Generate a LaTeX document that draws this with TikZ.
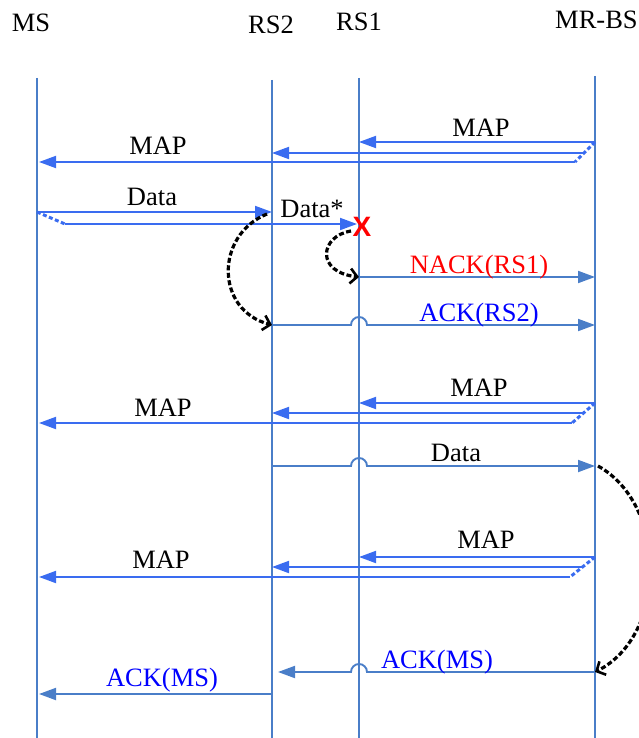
\documentclass[tikz,border=0pt]{standalone}
\usepackage{fontspec}
\setmainfont{Liberation Serif}
\newfontfamily\crossfont{Liberation Sans}
\usetikzlibrary{arrows.meta}
\usetikzlibrary{calc}
\definecolor{lane}{HTML}{4A7EC8}
\definecolor{sig}{HTML}{3A6CF0}
\tikzset{
  lifeline/.style={lane, line width=2.8pt},
  msg/.style={sig, line width=1.9pt, -{Triangle[length=17pt,width=12pt]}},
  reply/.style={lane, line width=1.9pt, -{Triangle[length=17pt,width=12pt]}},
  relay/.style={sig, line width=3pt, dash pattern=on 4pt off 2.5pt},
  turn/.style={black, line width=3.2pt, dash pattern=on 5pt off 2.5pt,
    -{Straight Barb[length=7pt,width=15pt,line width=2.6pt]}},
  lbl/.style={font=\fontsize{26.5}{28}\selectfont, inner sep=0pt, anchor=base},
}
\begin{document}
\begin{tikzpicture}[x=1pt,y=-1pt]
  \useasboundingbox (0,0) rectangle (639,738);
  % stations
  \node[lbl] (ms) at (31,32) {MS};
  \node[lbl] (rs2) at (271,34) {RS2};
  \node[lbl] (rs1) at (359,31) {RS1};
  \node[lbl,anchor=base west] (bs) at (555,29) {MR-BS};
  \draw[lifeline] (37,78) coordinate (ms-t) -- (37,738);
  \draw[lifeline] (272,80) coordinate (rs2-t) -- (272,738);
  \draw[lifeline] (359,78) coordinate (rs1-t) -- (359,738);
  \draw[lifeline] (595,76) coordinate (bs-t) -- (595,738);

  % first MAP
  \draw[relay] (bs-t |- 0,142) coordinate (a1) -- (575,162) coordinate (a3);
  \draw[msg] (a1) -- (rs1-t |- 0,142);
  \draw[msg] ($(a1)!.55!(a3)$) coordinate (a2) -- (rs2-t |- a2);
  \draw[msg,shorten >=2pt] (a3) -- (ms-t |- a3);
  \node[lbl] (map1r) at (481,137) {MAP};
  \node[lbl] (map1l) at (158,155) {MAP};

  % data, lost at RS1
  \draw[relay] (ms-t |- 0,212) coordinate (d1) -- (65,224) coordinate (d2);
  \draw[msg] (d1) -- (rs2-t |- d1);
  \draw[msg,shorten >=2pt] (d2) -- (rs1-t |- d2);
  \node[lbl] (data1) at (152,205) {Data};
  \node[lbl] (data1s) at (312,217) {Data*};
  \node[text=red, font=\crossfont\bfseries\fontsize{28}{28}\selectfont,
    inner sep=0pt] (lost) at (362,227) {X};

  % NACK and ACK to MR-BS
  \draw[reply] (rs1-t |- 0,277) coordinate (n1) -- (bs-t |- n1);
  \node[lbl,text=red] (nack) at (479,273) {NACK(RS1)};
  \draw[reply] (rs2-t |- 0,325) coordinate (k1)
    -- ($(rs1-t |- k1)+(-8,0)$) arc[start angle=180,end angle=0,radius=8pt]
    -- (bs-t |- k1);
  \node[lbl,text=blue] (ackrs2) at (479,321) {ACK(RS2)};
  \draw[turn] (267,214) .. controls (215,235) and (215,310) .. (k1);
  \draw[turn] (351,231) .. controls (320,236) and (315,272) .. (n1);

  % second MAP
  \draw[relay] (bs-t |- 0,403) coordinate (b1) -- (572,423) coordinate (b3);
  \draw[msg] (b1) -- (rs1-t |- b1);
  \draw[msg] ($(b1)!.5!(b3)$) coordinate (b2) -- (rs2-t |- b2);
  \draw[msg,shorten >=2pt] (b3) -- (ms-t |- b3);
  \node[lbl] (map2r) at (479,396) {MAP};
  \node[lbl] (map2l) at (163,416) {MAP};

  % data to MR-BS
  \draw[reply] (rs2-t |- 0,466) coordinate (e1)
    -- ($(rs1-t |- e1)+(-8,0)$) arc[start angle=180,end angle=0,radius=8pt]
    -- (bs-t |- e1);
  \node[lbl] (data2) at (456,461) {Data};

  % third MAP
  \draw[relay] (bs-t |- 0,557) coordinate (c1) -- (570,577) coordinate (c3);
  \draw[msg] (c1) -- (rs1-t |- c1);
  \draw[msg] ($(c1)!.5!(c3)$) coordinate (c2) -- (rs2-t |- c2);
  \draw[msg,shorten >=2pt] (c3) -- (ms-t |- c3);
  \node[lbl] (map3r) at (486,548) {MAP};
  \node[lbl] (map3l) at (161,568) {MAP};

  % ACK back to MS
  \draw[reply,shorten >=6pt] (bs-t |- 0,672) coordinate (f1)
    -- ($(rs1-t |- f1)+(8,0)$) arc[start angle=0,end angle=180,radius=8pt]
    -- (rs2-t |- f1);
  \node[lbl,text=blue] (ackms1) at (437,668) {ACK(MS)};
  \draw[reply,shorten >=2pt] (rs2-t |- 0,694) coordinate (g1) -- (ms-t |- g1);
  \node[lbl,text=blue] (ackms2) at (162,686) {ACK(MS)};
  \draw[turn] ($(e1 -| bs-t)+(3,0)$) .. controls (668,505) and (668,635) .. (f1);
\end{tikzpicture}
\end{document}
